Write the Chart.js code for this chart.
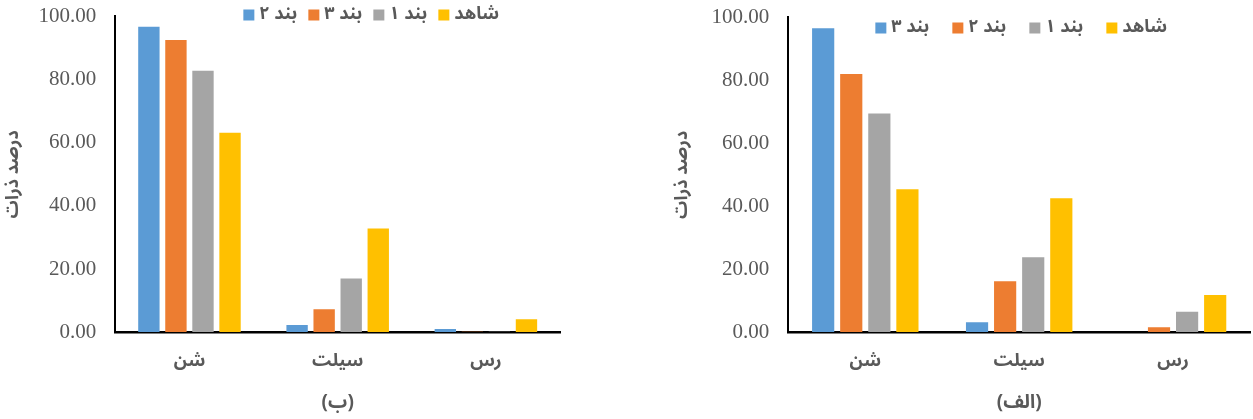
<!DOCTYPE html>
<html>
<head>
<meta charset="utf-8">
<script src="https://cdn.jsdelivr.net/npm/chart.js@4.4.1/dist/chart.umd.min.js"></script>
<style>
  html, body { margin: 0; padding: 0; background: #ffffff; }
  body { width: 1253px; height: 419px; position: relative; overflow: hidden; }
  .panel { position: absolute; top: 0; height: 419px; }
  #panelB { left: 0; width: 575px; }
  #panelA { left: 673px; width: 580px; }
</style>
</head>
<body>
<div class="panel" id="panelB"><canvas id="chartB"></canvas></div>
<div class="panel" id="panelA"><canvas id="chartA"></canvas></div>
<script>
// Soil texture classes
const categories = ['شن', 'سیلت', 'رس'];
const yTicks = [0, 20, 40, 60, 80, 100];

// Panel (ب)
const seriesNamesB = ['بند ۲', 'بند ۳', 'بند ۱', 'شاهد'];
const band2B = [96.6, 2.4, 1.1];
const band3B = [92.4, 7.4, 0.3];
const band1B = [82.7, 17.1, 0.3];
const controlB = [63.1, 32.9, 4.2];

// Panel (الف)
const seriesNamesA = ['بند ۳', 'بند ۲', 'بند ۱', 'شاهد'];
const band3A = [96.4, 3.3, 0.2];
const band2A = [81.9, 16.3, 1.7];
const band1A = [69.4, 23.9, 6.6];
const controlA = [45.4, 42.6, 11.9];

const colors = ['#5B9BD5', '#ED7D31', '#A5A5A5', '#FFC000'];
const textGray = '#595959';
const arabicFont = '"Noto Sans Arabic", "DejaVu Sans", sans-serif';

// Legend row drawn inside the plot area, boxes to the left of each label
const insideLegend = {
  id: 'insideLegend',
  afterDraw(chart, args, opts) {
    const ctx = chart.ctx;
    const area = chart.chartArea;
    ctx.save();
    ctx.font = 'bold ' + opts.size + 'px ' + arabicFont;
    ctx.textBaseline = 'middle';
    ctx.textAlign = 'left';
    chart.data.datasets.forEach((ds, i) => {
      const x = area.left + opts.offsetX + i * opts.step;
      ctx.fillStyle = ds.backgroundColor;
      ctx.fillRect(x, opts.y - opts.box / 2, opts.box, opts.box);
      ctx.fillStyle = textGray;
      ctx.fillText(ds.label, x + opts.box + opts.gap, opts.y + 1);
    });
    ctx.restore();
  }
};

// Invisible tick marks keep the label gap without widening the end padding
const hiddenTicks = (len) => ({
  display: true,
  drawOnChartArea: false,
  drawTicks: true,
  tickLength: len,
  color: 'rgba(0,0,0,0)',
  tickColor: 'rgba(0,0,0,0)'
});

function makeChart(id, names, values, caption, geo) {
  return new Chart(document.getElementById(id), {
    type: 'bar',
    data: {
      labels: categories,
      datasets: names.map((n, i) => ({
        label: n,
        data: values[i],
        backgroundColor: colors[i],
        borderWidth: 0,
        categoryPercentage: geo.catPct,
        barPercentage: geo.barPct
      }))
    },
    options: {
      responsive: true,
      maintainAspectRatio: false,
      animation: false,
      devicePixelRatio: 1,
      layout: { padding: geo.padding },
      plugins: {
        legend: { display: false },
        tooltip: { enabled: false },
        insideLegend: geo.legend
      },
      scales: {
        x: {
          grid: hiddenTicks(20),
          border: { display: true, color: '#000000', width: 2.5 },
          ticks: {
            color: textGray,
            padding: 0,
            font: { family: arabicFont, size: 18, weight: 'bold' }
          },
          title: {
            display: true,
            text: caption,
            color: textGray,
            padding: { top: 20, bottom: 0 },
            font: { family: arabicFont, size: 19, weight: 'bold' }
          }
        },
        y: {
          min: 0,
          max: 100,
          afterBuildTicks(scale) { scale.ticks = yTicks.map(v => ({ value: v })); },
          grid: hiddenTicks(19),
          border: { display: true, color: '#000000', width: 2 },
          ticks: {
            color: textGray,
            padding: 0,
            font: { family: '"Liberation Serif", serif', size: 21 },
            callback: v => Number(v).toFixed(2)
          },
          title: {
            display: true,
            text: 'درصد ذرات',
            color: textGray,
            padding: geo.yTitlePad,
            font: { family: arabicFont, size: 18, weight: 'bold' }
          }
        }
      }
    },
    plugins: [insideLegend]
  });
}

makeChart('chartB', seriesNamesB, [band2B, band3B, band1B, controlB], '(ب)', {
  catPct: 0.73, barPct: 0.79,
  padding: { top: 16, right: 15, bottom: 2, left: 0 },
  yTitlePad: { top: 4, bottom: 13 },
  legend: { offsetX: 128, step: 65, y: 15, box: 11, gap: 5, size: 18 }
});

makeChart('chartA', seriesNamesA, [band3A, band2A, band1A, controlA], '(الف)', {
  catPct: 0.73, barPct: 0.79,
  padding: { top: 17, right: 3, bottom: 2, left: 0 },
  yTitlePad: { top: 0, bottom: 17 },
  legend: { offsetX: 87, step: 77, y: 28, box: 11, gap: 5, size: 18 }
});
</script>
</body>
</html>
